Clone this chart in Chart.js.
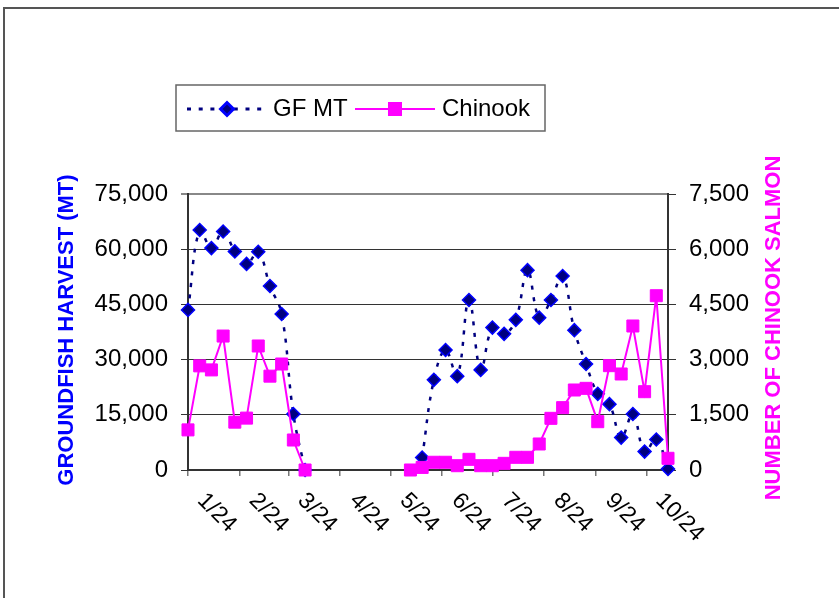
<!DOCTYPE html>
<html>
<head>
<meta charset="utf-8">
<title>Groundfish harvest and Chinook bycatch</title>
<script src="https://cdn.jsdelivr.net/npm/chart.js@4.4.0/dist/chart.umd.min.js"></script>
<style>
  html, body { margin: 0; padding: 0; background: #fff; }
  canvas { display: block; }
</style>
</head>
<body>
<canvas id="bycatchChart" width="839" height="598"></canvas>
<script>
// Week-ending dates of the weekly reports
const weekDates = [
  '2004-01-24', '2004-01-31', '2004-02-07', '2004-02-14', '2004-02-21', '2004-02-28',
  '2004-03-06', '2004-03-13', '2004-03-20', '2004-03-27', '2004-04-03', '2004-04-10',
  '2004-04-17', '2004-04-24', '2004-05-01', '2004-05-08', '2004-05-15', '2004-05-22',
  '2004-05-29', '2004-06-05', '2004-06-12', '2004-06-19', '2004-06-26', '2004-07-03',
  '2004-07-10', '2004-07-17', '2004-07-24', '2004-07-31', '2004-08-07', '2004-08-14',
  '2004-08-21', '2004-08-28', '2004-09-04', '2004-09-11', '2004-09-18', '2004-09-25',
  '2004-10-02', '2004-10-09', '2004-10-16', '2004-10-23', '2004-10-30', '2004-11-06'
];

// Groundfish harvest (metric tons), no fishing between seasons
const gfMT = [
  43500, 65200, 60300, 64800, 59400, 56000, 59300, 50000, 42400, 15200, 0,
  null, null, null, null, null, null, null, null, null,
  3400, 24500, 32600, 25500, 46200, 27200, 38700, 37000, 40800, 54300, 41400,
  46200, 52700, 38000, 28800, 20700, 17900, 8800, 15200, 5000, 8300, 300
];

// Number of Chinook salmon taken
const chinook = [
  1090, 2830, 2720, 3640, 1300, 1410, 3370, 2550, 2880, 815, 0,
  null, null, null, null, null, null, null, null,
  0, 70, 210, 210, 117, 290, 117, 117, 181, 345, 345, 707,
  1404, 1694, 2174, 2219, 1313, 2835, 2609, 3913, 2128, 4736, 318
];

// Date axis ticks (one per month)
const tickDates = [
  '2004-01-24', '2004-02-24', '2004-03-24', '2004-04-24', '2004-05-24',
  '2004-06-24', '2004-07-24', '2004-08-24', '2004-09-24', '2004-10-24'
];
const tickLabels = ['1/24', '2/24', '3/24', '4/24', '5/24', '6/24', '7/24', '8/24', '9/24', '10/24'];

const DAY = 86400000;
const startTime = Date.parse(weekDates[0]);
function dayOffset(d) {
    return Math.round((Date.parse(d) - startTime) / DAY);
}

const xDays = weekDates.map(dayOffset);
const tickDays = tickDates.map(dayOffset);

const FONT = '"Liberation Sans", Arial, sans-serif';

function toPoints(values) {
    return values.map((v, i) => ({ x: xDays[i], y: v }));
}

// Frame, rotated date labels, axis titles and legend box
const decorations = {
    id: 'decorations',
    beforeDraw(chart) {
        const ctx = chart.ctx;
        ctx.save();
        ctx.fillStyle = '#fff';
        ctx.fillRect(0, 0, chart.width, chart.height);
        ctx.strokeStyle = '#555';
        ctx.lineWidth = 2;
        ctx.strokeRect(4, 8, 900, 700);
        ctx.restore();
    },
    afterDraw(chart) {
        const ctx = chart.ctx;
        const xs = chart.scales.x;
        const area = chart.chartArea;

        // date labels, rotated downwards
        ctx.save();
        ctx.fillStyle = '#000';
        ctx.font = '23px ' + FONT;
        ctx.textAlign = 'left';
        ctx.textBaseline = 'middle';
        tickDays.forEach((d, i) => {
            const px = xs.getPixelForValue(d);
            ctx.save();
            ctx.translate(px + 13, area.bottom + 27);
            ctx.rotate(Math.PI / 4);
            ctx.fillText(tickLabels[i], 0, 0);
            ctx.restore();
        });
        ctx.restore();

        // axis titles
        ctx.save();
        ctx.font = 'bold 22px ' + FONT;
        ctx.textAlign = 'center';
        ctx.textBaseline = 'middle';
        ctx.fillStyle = '#0000FF';
        ctx.translate(67, 330);
        ctx.rotate(-Math.PI / 2);
        ctx.fillText('GROUNDFISH HARVEST (MT)', 0, 0);
        ctx.restore();

        ctx.save();
        ctx.font = 'bold 22px ' + FONT;
        ctx.textAlign = 'center';
        ctx.textBaseline = 'middle';
        ctx.fillStyle = '#FF00FF';
        ctx.translate(774, 328);
        ctx.rotate(-Math.PI / 2);
        ctx.fillText('NUMBER OF CHINOOK SALMON', 0, 0);
        ctx.restore();

        // legend
        ctx.save();
        ctx.fillStyle = '#fff';
        ctx.fillRect(176, 85, 369, 46);
        ctx.strokeStyle = '#666';
        ctx.lineWidth = 1.5;
        ctx.strokeRect(176, 85, 369, 46);

        const ly = 109;
        ctx.strokeStyle = '#000080';
        ctx.lineWidth = 3;
        ctx.setLineDash([4, 7.7]);
        ctx.beginPath();
        ctx.moveTo(187, ly);
        ctx.lineTo(264, ly);
        ctx.stroke();
        ctx.setLineDash([]);
        ctx.fillStyle = '#000080';
        ctx.strokeStyle = '#0000FF';
        Chart.helpers.drawPoint(ctx, { pointStyle: 'rectRot', radius: 6.5, borderWidth: 1.5, rotation: 0 }, 227, ly);

        ctx.strokeStyle = '#FF00FF';
        ctx.lineWidth = 2;
        ctx.beginPath();
        ctx.moveTo(355, ly);
        ctx.lineTo(435, ly);
        ctx.stroke();
        ctx.fillStyle = '#FF00FF';
        Chart.helpers.drawPoint(ctx, { pointStyle: 'rect', radius: 8.5, borderWidth: 1, rotation: 0 }, 395, ly);

        ctx.fillStyle = '#000';
        ctx.font = '24px ' + FONT;
        ctx.textAlign = 'left';
        ctx.textBaseline = 'middle';
        ctx.fillText('GF MT', 273, ly);
        ctx.fillText('Chinook', 442, ly);
        ctx.restore();
    }
};

const ctx = document.getElementById('bycatchChart').getContext('2d');
const bycatchChart = new Chart(ctx, {
    type: 'line',
    data: {
        datasets: [
            {
                label: 'GF MT',
                data: toPoints(gfMT),
                yAxisID: 'y',
                order: 2,
                borderColor: '#000080',
                borderWidth: 2.5,
                borderDash: [4, 7.5],
                tension: 0.4,
                spanGaps: false,
                clip: false,
                pointStyle: 'rectRot',
                pointRadius: 6.5,
                pointBorderWidth: 1.5,
                pointBackgroundColor: '#000080',
                pointBorderColor: '#0000FF'
            },
            {
                label: 'Chinook',
                data: toPoints(chinook),
                yAxisID: 'y1',
                order: 1,
                borderColor: '#FF00FF',
                borderWidth: 2,
                tension: 0,
                spanGaps: false,
                clip: false,
                pointStyle: 'rect',
                pointRadius: 8.5,
                pointBorderWidth: 1,
                pointBackgroundColor: '#FF00FF',
                pointBorderColor: '#FF00FF'
            }
        ]
    },
    options: {
        responsive: false,
        animation: false,
        devicePixelRatio: 1,
        layout: { padding: { top: 194, left: 0, right: 0, bottom: 0 } },
        plugins: {
            legend: { display: false },
            tooltip: { enabled: false }
        },
        scales: {
            x: {
                type: 'linear',
                min: 0,
                max: xDays[xDays.length - 1],
                afterBuildTicks: (scale) => {
                    scale.ticks = tickDays.map(v => ({ value: v }));
                },
                afterFit: (scale) => { scale.height = 128; },
                ticks: { display: false },
                grid: { drawOnChartArea: false, drawTicks: true, tickLength: 6, color: '#777', lineWidth: 1.5 },
                border: { color: '#333', width: 2 }
            },
            y: {
                position: 'left',
                min: 0,
                max: 75000,
                afterFit: (scale) => { scale.width = 188; },
                ticks: {
                    stepSize: 15000,
                    color: '#000',
                    padding: 13,
                    font: { family: FONT, size: 24 },
                    callback: (v) => v.toLocaleString('en-US')
                },
                grid: {
                    color: (c) => c.tick && c.tick.value === 75000 ? '#888' : '#333',
                    lineWidth: (c) => c.tick && c.tick.value === 75000 ? 2 : 1,
                    tickLength: 7
                },
                border: { color: '#333', width: 2 }
            },
            y1: {
                position: 'right',
                min: 0,
                max: 7500,
                afterFit: (scale) => { scale.width = 171; },
                ticks: {
                    stepSize: 1500,
                    color: '#000',
                    padding: 13,
                    font: { family: FONT, size: 24 },
                    callback: (v) => v.toLocaleString('en-US')
                },
                grid: { drawOnChartArea: false, color: '#333', tickLength: 8 },
                border: { color: '#333', width: 2 }
            }
        }
    },
    plugins: [decorations]
});
</script>
</body>
</html>
